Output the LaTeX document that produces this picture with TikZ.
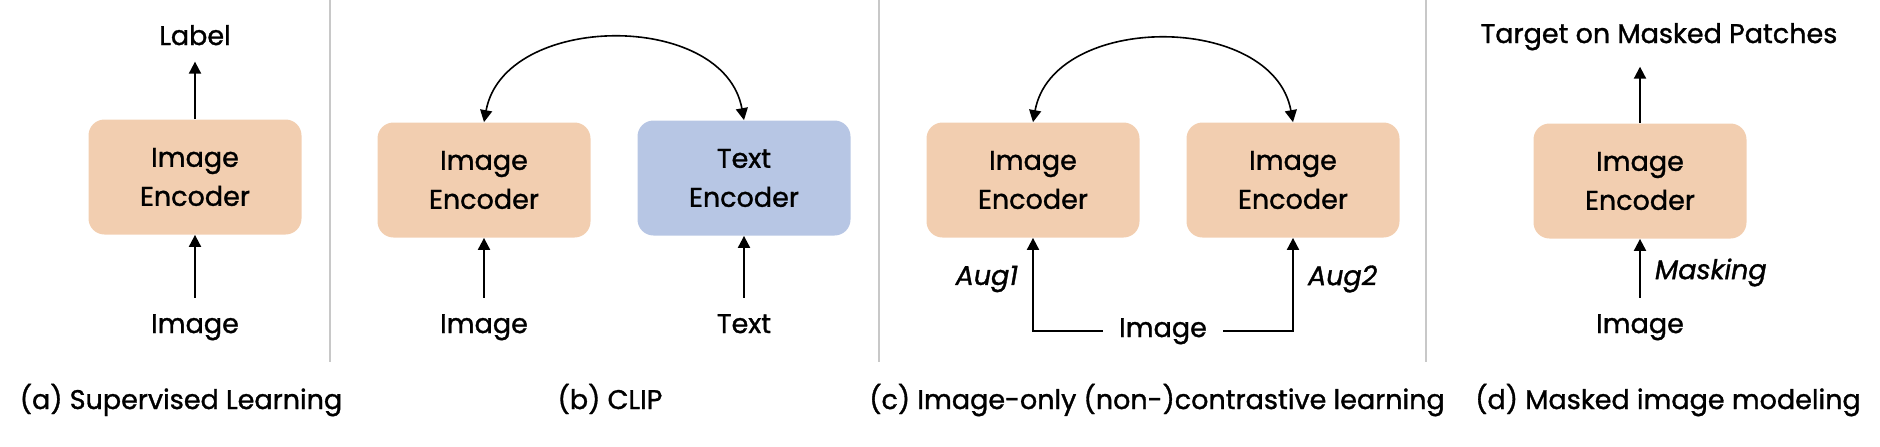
\documentclass[tikz,border=0pt]{standalone}
\usepackage{fontspec}
\setmainfont{Poppins}[FakeBold=1.2]
\usepackage{tikz}
\usetikzlibrary{arrows.meta,positioning}

\definecolor{encpeach}{RGB}{242,206,176}
\definecolor{encblue}{RGB}{183,198,228}
\definecolor{divgray}{RGB}{200,200,200}

\begin{document}
\begin{tikzpicture}[x=0.5pt, y=-0.5pt,
    font=\fontsize{13.5}{19.5}\selectfont,
    enc/.style={rounded corners=8pt, fill=encpeach, align=center,
      minimum width=106.5pt, minimum height=57.5pt, inner sep=0pt},
    txt_enc/.style={enc, fill=encblue},
    io/.style={inner sep=8pt},
    aug/.style={font=\fontsize{13.5}{15}\selectfont\itshape, inner sep=7pt},
    caption/.style={inner sep=0pt},
    divider/.style={divgray, line width=1pt},
    flow/.style={-{Triangle[length=6pt,width=6pt]}, line width=1pt},
    pair/.style={{Triangle[length=6pt,width=6pt]}-{Triangle[length=6pt,width=6pt]}, line width=0.8pt}
  ]
  \useasboundingbox (0,0) rectangle (1880,446);

  % --- Dividers ---
  \draw[divider] (330,0) -- (330,362);
  \draw[divider] (879,0) -- (879,362);
  \draw[divider] (1426,0) -- (1426,362);

  % --- (a) Supervised learning ---
  \node[enc] (encA) at (195,177) {Image\\Encoder};
  \node[io, anchor=base] (imgA) at (195,333) {Image};
  \node[io, anchor=base] (lblA) at (195,45) {Label};
  \draw[flow] (imgA) -- (encA);
  \draw[flow] (encA) -- (lblA);

  % --- (b) CLIP ---
  \node[enc] (encB1) at (484,180) {Image\\Encoder};
  \node[txt_enc] (encB2) at (744,178) {Text\\Encoder};
  \node[io, anchor=base] (imgB) at (484,333) {Image};
  \node[io, anchor=base] (txtB) at (744,333) {Text};
  \draw[flow] (imgB) -- (encB1);
  \draw[flow] (txtB) -- (encB2);
  \draw[pair] (encB1.north) .. controls +(20,-110) and +(-20,-110) .. (encB2.north);

  % --- (c) Image-only ---
  \node[enc] (encC1) at (1033,180) {Image\\Encoder};
  \node[enc] (encC2) at (1293,180) {Image\\Encoder};
  \node[io, anchor=base] (imgC) at (1163,337) {Image};
  \draw[flow] (imgC.west) -| node[aug, left, pos=0.78] {Aug1} (encC1.south);
  \draw[flow] (imgC.east) -| node[aug, right, pos=0.78] {Aug2} (encC2.south);
  \draw[pair] (encC1.north) .. controls +(20,-110) and +(-20,-110) .. (encC2.north);

  % --- (d) Masked image modeling ---
  \node[enc] (encD) at (1640,181) {Image\\Encoder};
  \node[io, anchor=base] (imgD) at (1640,333) {Image};
  \node[io, anchor=base] (tgtD) at (1659,43) {Target on Masked Patches};
  \draw[flow] (imgD) -- node[aug, right, pos=0.43] {Masking} (encD);
  \draw[flow] (encD.north) -- (encD.north |- tgtD.south);

  % --- Captions ---
  \node[caption, anchor=base] (capA) at (181,409) {(a) Supervised Learning};
  \node[caption, anchor=base] (capB) at (610,409) {(b) CLIP};
  \node[caption, anchor=base] (capC) at (1157,409) {(c) Image-only (non-)contrastive learning};
  \node[caption, anchor=base] (capD) at (1668,409) {(d) Masked image modeling};
\end{tikzpicture}
\end{document}
